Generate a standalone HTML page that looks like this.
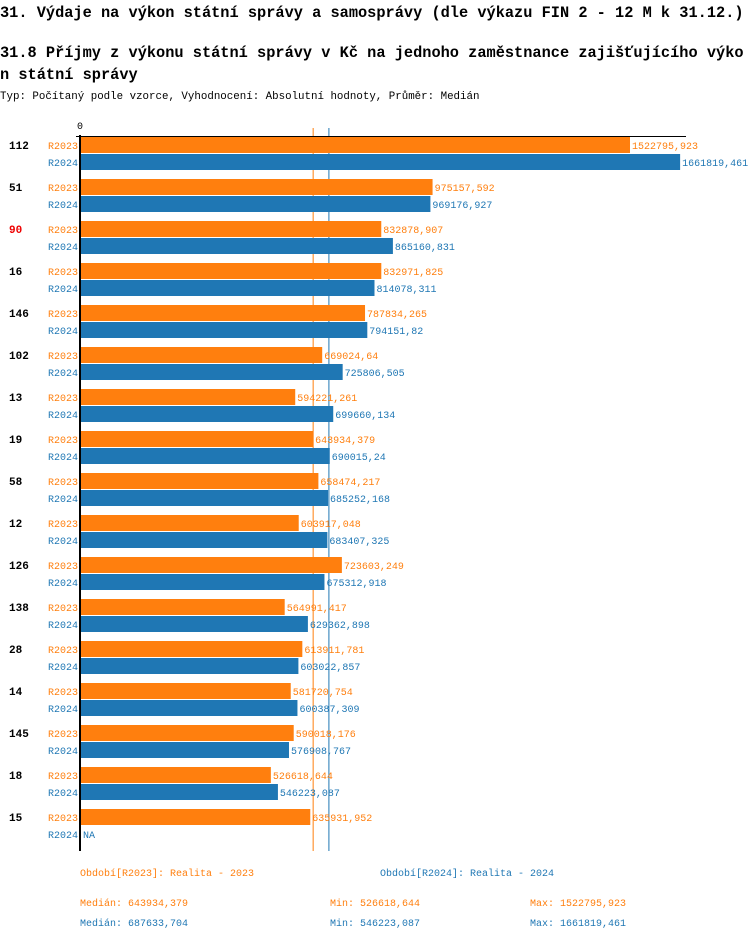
<!DOCTYPE html>
<html><head><meta charset="utf-8"><style>
html,body{margin:0;padding:0;background:#fff;width:750px;height:940px;overflow:hidden}
svg{display:block;font-family:"Liberation Mono",monospace}
</style></head><body>
<svg id="c" width="750" height="940">
<text x="0" y="17" font-size="15.3" font-weight="bold" fill="#000">31. Výdaje na výkon státní správy a samosprávy (dle výkazu FIN 2 - 12 M k 31.12.)</text>
<text x="0" y="57" font-size="15.3" font-weight="bold" fill="#000">31.8 Příjmy z výkonu státní správy v Kč na jednoho zaměstnance zajišťujícího výko</text>
<text x="0" y="79" font-size="15.3" font-weight="bold" fill="#000">n státní správy</text>
<text x="0" y="99" font-size="10.8" fill="#000">Typ: Počítaný podle vzorce, Vyhodnocení: Absolutní hodnoty, Průměr: Medián</text>
<text x="77" y="129" font-size="10" fill="#000">0</text>
<g id="marks"></g>
<text x="80" y="876" font-size="10" fill="#ff7f0e">Období[R2023]: Realita - 2023</text>
<text x="380" y="876" font-size="10" fill="#1f77b4">Období[R2024]: Realita - 2024</text>
<text x="80" y="906" font-size="10" fill="#ff7f0e">Medián: 643934,379</text>
<text x="330" y="906" font-size="10" fill="#ff7f0e">Min: 526618,644</text>
<text x="530" y="906" font-size="10" fill="#ff7f0e">Max: 1522795,923</text>
<text x="80" y="926" font-size="10" fill="#1f77b4">Medián: 687633,704</text>
<text x="330" y="926" font-size="10" fill="#1f77b4">Min: 546223,087</text>
<text x="530" y="926" font-size="10" fill="#1f77b4">Max: 1661819,461</text>
</svg>
<script>
const categories=["112","51","90","16","146","102","13","19","58","12","126","138","28","14","145","18","15"];
const values2023=[1522795.923,975157.592,832878.907,832971.825,787834.265,669024.64,594221.261,643934.379,658474.217,603917.048,723603.249,564991.417,613911.781,581720.754,590018.176,526618.644,635931.952];
const values2024=[1661819.461,969176.927,865160.831,814078.311,794151.82,725806.505,699660.134,690015.24,685252.168,683407.325,675312.918,629362.898,603022.857,600387.309,576908.767,546223.087,null];
const labels2023=["1522795,923","975157,592","832878,907","832971,825","787834,265","669024,64","594221,261","643934,379","658474,217","603917,048","723603,249","564991,417","613911,781","581720,754","590018,176","526618,644","635931,952"];
const labels2024=["1661819,461","969176,927","865160,831","814078,311","794151,82","725806,505","699660,134","690015,24","685252,168","683407,325","675312,918","629362,898","603022,857","600387,309","576908,767","546223,087","NA"];
const highlight=["90"];
const medians=[643934.379,687633.704];
const NS="http://www.w3.org/2000/svg";
const g=document.getElementById('marks');
const x0=81, scale=549/1522795.923, top0=136, step=42;
const xs=v=>x0+v*scale;
const ys=i=>top0+i*step;
const C1="#ff7f0e",C2="#1f77b4";
function el(t,a){const e=document.createElementNS(NS,t);for(const k in a)e.setAttribute(k,a[k]);g.appendChild(e);return e;}
const bottom=ys(categories.length)+1;
[[medians[0],C1],[medians[1],C2]].forEach(([m,col])=>{
  const l=el('line',{x1:xs(m),x2:xs(m),y1:128,y2:bottom,stroke:col,'stroke-width':1});
  
  
});
categories.forEach((c,i)=>{
  const y=ys(i);
  const t=el('text',{x:9,y:y+13,'font-size':11,'font-weight':'bold',fill:highlight.includes(c)?'#e00':'#000'});
  t.textContent=c;
  
  
  [[values2023,labels2023,C1,'R2023',1],[values2024,labels2024,C2,'R2024',18]].forEach(([vals,labs,col,nm,off])=>{
    const l=el('text',{x:78,y:y+off+12,'font-size':10,fill:col,'text-anchor':'end'});
    l.textContent=nm;
    
    
    const v=vals[i];
    let end=x0;
    if(v!=null){
      const r=el('rect',{x:x0,y:y+off,width:xs(v)-x0,height:16,fill:col});
      
      
      end=xs(v);
    }
    const vt=el('text',{x:end+2,y:y+off+12,'font-size':10,fill:col});
    vt.textContent=labs[i];
    
    
  });
});
const ax=el('line',{x1:80,x2:80,y1:135,y2:bottom,stroke:'#000','stroke-width':2});


const tx=el('line',{x1:76,x2:686,y1:136.5,y2:136.5,stroke:'#000','stroke-width':1});


</script>
</body></html>
